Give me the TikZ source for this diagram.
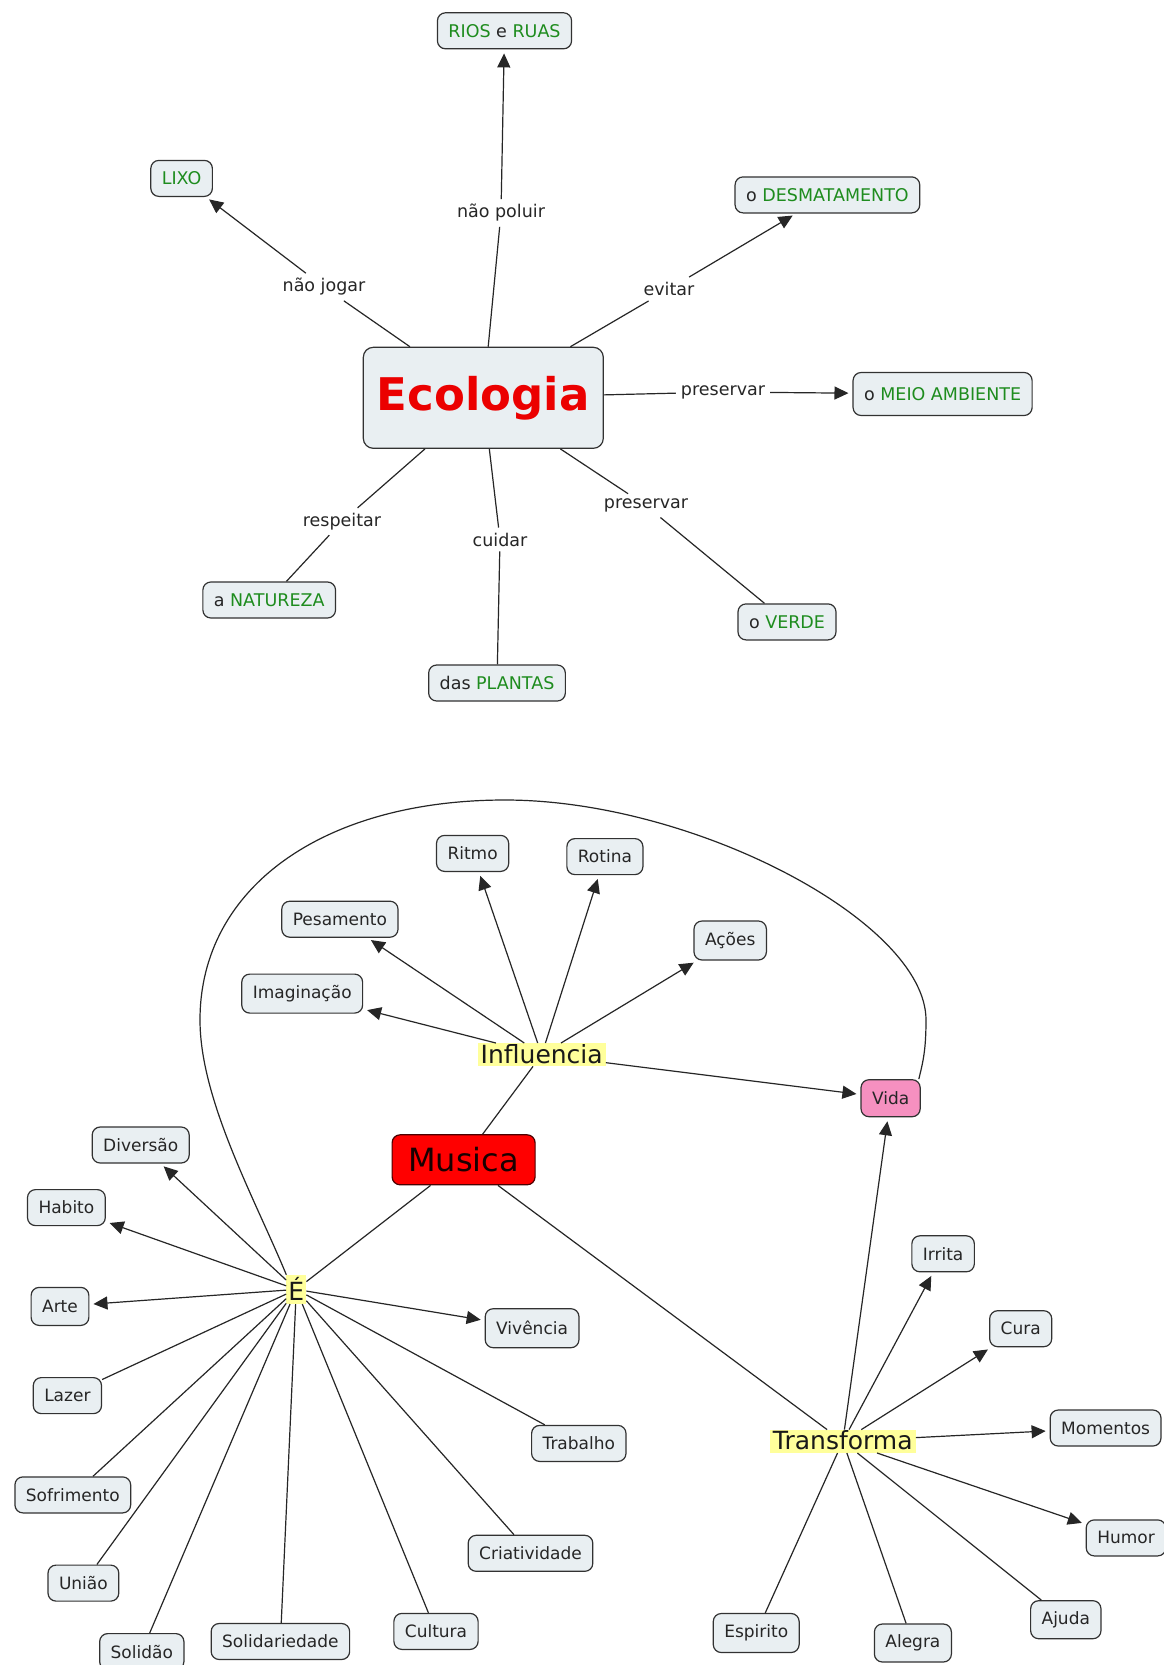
\documentclass[tikz,border=0pt]{standalone}
\usepackage{fontspec}
\setmainfont{DejaVu Sans}
\usetikzlibrary{arrows.meta}
\definecolor{nodefill}{RGB}{233,239,242}
\definecolor{nodeline}{RGB}{50,50,50}
\definecolor{termgreen}{RGB}{30,140,30}
\definecolor{hilite}{RGB}{255,255,155}
\definecolor{vidapink}{RGB}{246,144,192}
\definecolor{ecored}{RGB}{235,0,0}
\definecolor{musred}{RGB}{255,0,0}
\newcommand{\gr}[1]{\textcolor{termgreen}{#1}}
\begin{document}
\begin{tikzpicture}[x=1pt,y=-1pt,
  concept/.style={draw=nodeline, fill=nodefill, rounded corners=8pt, line width=1.2pt,
    inner xsep=11pt, inner ysep=0pt, minimum height=36pt,
    font=\fontsize{17.5}{20}\selectfont, text=black!85},
  leaf/.style={concept, font=\fontsize{17}{20}\selectfont},
  phrase/.style={inner sep=5pt, font=\fontsize{17.5}{20}\selectfont, text=black!85},
  hl/.style={fill=hilite, inner xsep=3pt, inner ysep=2pt, text height=18pt, text depth=1pt,
    font=\fontsize{25}{28}\selectfont, text=black!90},
  link/.style={line width=1.2pt, draw=black!85},
  arr/.style={link, -{Triangle[length=14pt,width=13pt]}, shorten >=4pt},
]
\fill[white] (0,0) rectangle (1163,1665);
\useasboundingbox (0,0) rectangle (1163,1665);

% ---------- Ecologia map ----------
\node[concept, rounded corners=10pt, minimum width=240pt, minimum height=101pt, inner sep=0pt,
  font=\fontsize{45}{50}\selectfont\bfseries, text=ecored] (eco) at (483.3,397.8) {Ecologia};

\node[concept] (rios)  at (504.5,30.8)  {\gr{RIOS} e \gr{RUAS}};
\node[concept] (lixo)  at (181.6,178.4) {\gr{LIXO}};
\node[concept] (desm)  at (827.4,194.9) {o \gr{DESMATAMENTO}};
\node[concept, minimum height=43pt] (meio) at (942.6,394) {o \gr{MEIO AMBIENTE}};
\node[concept] (natu)  at (269.2,600)   {a \gr{NATUREZA}};
\node[concept] (plan)  at (497,683)     {das \gr{PLANTAS}};
\node[concept] (verde) at (787,621.9)   {o \gr{VERDE}};

\node[phrase] (l1) at (324,287)   {não jogar};
\node[phrase] (l2) at (501,213)   {não poluir};
\node[phrase] (l3) at (669,289)   {evitar};
\node[phrase] (l4) at (723,392)   {preservar};
\node[phrase] (l5) at (342,521.5) {respeitar};
\node[phrase] (l6) at (500,539.5) {cuidar};
\node[phrase] (l7) at (646,505.6) {preservar};

\draw[link] (eco) -- (l1); \draw[arr] (l1) -- (lixo);
\draw[link] (eco) -- (l2); \draw[arr] (l2) -- (rios);
\draw[link] (eco) -- (l3); \draw[arr] (l3) -- (desm);
\draw[link] (eco) -- (l4); \draw[arr] (l4) -- (meio);
\draw[link] (eco) -- (l5) -- (natu);
\draw[link] (eco) -- (l6) -- (plan);
\draw[link] (eco) -- (l7) -- (verde);

% ---------- Musica map ----------
\node[concept, fill=musred, draw=black!70!red, minimum width=143pt, minimum height=50pt,
  inner sep=0pt, font=\fontsize{32}{36}\selectfont, text=black!90!red] (musica) at (463.6,1159.8) {Musica};

\node[hl] (infl)   at (541.7,1054.7) {Influencia};
\node[hl, text height=23pt, text depth=0pt, inner ysep=3pt, inner xsep=2pt] (E) at (296.3,1289.4) {É};
\node[hl] (transf) at (842.8,1441.3) {Transforma};

\node[leaf] (ritmo)  at (472.6,853.4)  {Ritmo};
\node[leaf] (rotina) at (604.9,856.6)  {Rotina};
\node[leaf] (pesa)   at (339.9,919.2)  {Pesamento};
\node[leaf, minimum height=39pt] (acoes) at (730.2,940.5) {Ações};
\node[leaf, minimum height=39pt] (imag)  at (302.2,993.6) {Imaginação};
\node[leaf, fill=vidapink, minimum height=37pt] (vida) at (890.6,1098.2) {Vida};

\node[leaf] (div)     at (140.7,1145)   {Diversão};
\node[leaf] (hab)     at (66.4,1207.6)  {Habito};
\node[leaf, minimum height=38pt] (arte) at (60,1306.4) {Arte};
\node[leaf, minimum height=39pt] (viv)  at (532.1,1328.2) {Vivência};
\node[leaf] (lazer)   at (67.4,1395.6)  {Lazer};
\node[leaf] (trab)    at (578.8,1443.4) {Trabalho};
\node[leaf] (sofr)    at (72.8,1494.9)  {Sofrimento};
\node[leaf] (cria)    at (530.5,1553.3) {Criatividade};
\node[leaf] (uniao)   at (83.4,1583.1)  {União};
\node[leaf] (solidao) at (141.8,1651.6) {Solidão};
\node[leaf] (solid)   at (280.4,1641.5) {Solidariedade};
\node[leaf] (cult)    at (436,1631.4)   {Cultura};

\node[leaf] (irrita) at (943.1,1253.8)  {Irrita};
\node[leaf] (cura)   at (1020.7,1328.7) {Cura};
\node[leaf] (mom)    at (1105.6,1428)   {Momentos};
\node[leaf] (humor)  at (1126,1537.9)   {Humor};
\node[leaf, minimum height=38pt] (ajuda)  at (1065.8,1619.7) {Ajuda};
\node[leaf, minimum height=38pt] (alegra) at (912.9,1643)    {Alegra};
\node[leaf, minimum height=39pt] (esp)    at (756.2,1633)    {Espirito};

% hub links
\draw[link] (musica) -- (infl);
\draw[link] (musica) -- (E);
\draw[link] (musica) -- (transf);

% Influencia
\draw[arr] (infl) -- (imag);
\draw[arr] (infl) -- (pesa);
\draw[arr] (infl) -- (ritmo);
\draw[arr] (infl) -- (rotina);
\draw[arr] (infl) -- (acoes);
\draw[arr] (infl) -- (vida);

% É
\draw[arr] (E) -- (div);
\draw[arr] (E) -- (hab);
\draw[arr] (E) -- (arte);
\draw[arr] (E) -- (viv);
\draw[link] (E) -- (lazer);
\draw[link] (E) -- (sofr);
\draw[link] (E) -- (uniao);
\draw[link] (E) -- (solidao);
\draw[link] (E) -- (solid);
\draw[link] (E) -- (cult);
\draw[link] (E) -- (cria);
\draw[link] (E) -- (trab);

% Transforma
\draw[arr] (transf) -- (vida);
\draw[arr] (transf) -- (irrita);
\draw[arr] (transf) -- (cura);
\draw[arr] (transf) -- (mom);
\draw[arr] (transf) -- (humor);
\draw[link] (transf) -- (esp);
\draw[link] (transf) -- (alegra);
\draw[link] (transf) -- (ajuda);

% curved link from É round the top to Vida
\draw[link] ([xshift=-10pt]E.north)
  .. controls (255,1199) and (200,1100) .. (200,1020)
  .. controls (200,887) and (324,800) .. (505,800)
  .. controls (694,800) and (926,922) .. (926,1020)
  .. controls (926,1050) and (923,1062) .. ([xshift=-2pt]vida.north east);
\end{tikzpicture}
\end{document}
